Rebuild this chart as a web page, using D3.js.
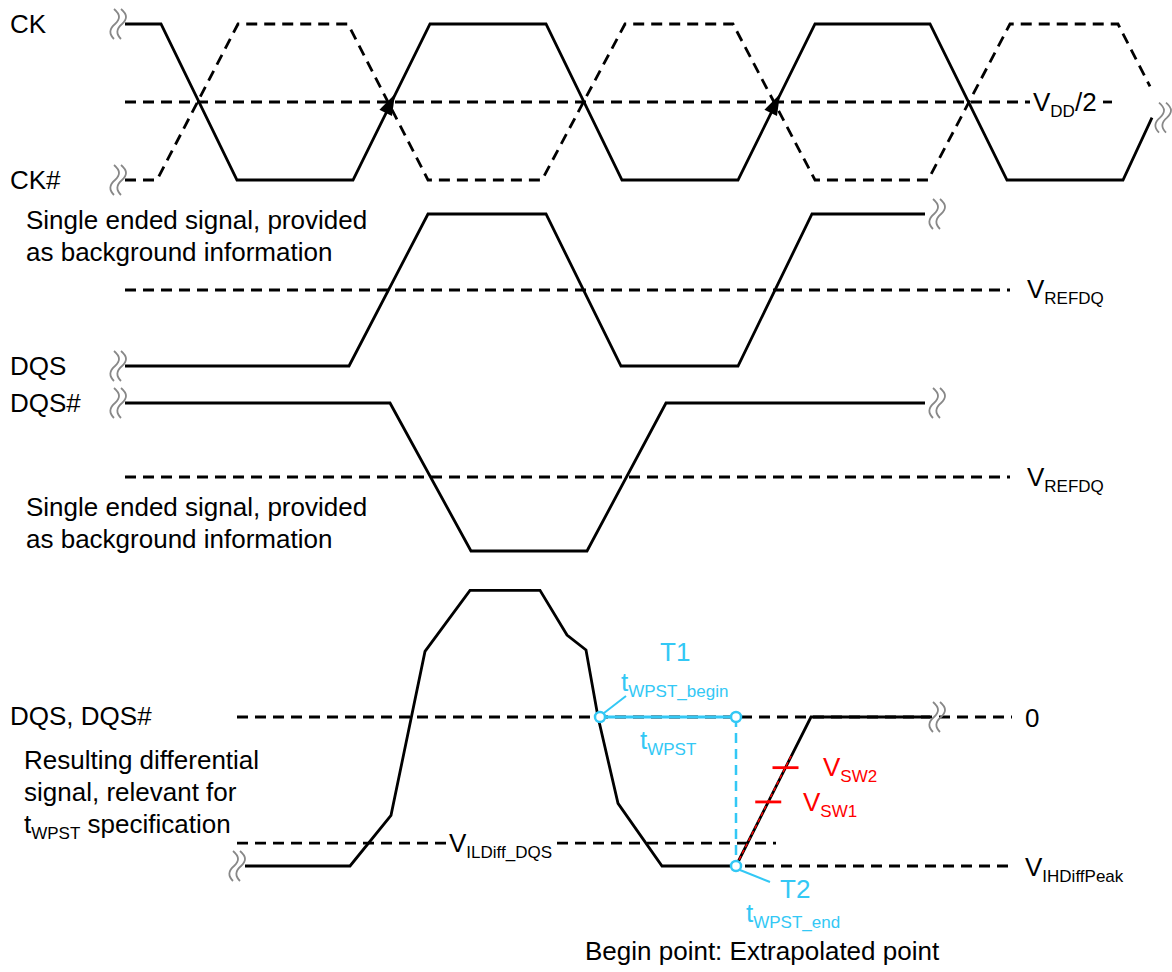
<!DOCTYPE html>
<html>
<head>
<meta charset="utf-8">
<script src="https://d3js.org/d3.v7.min.js"></script>
<style>
  body { margin: 0; background: white; }
  svg text { font-family: "Liberation Sans", Arial, Helvetica, sans-serif; font-size: 26px; }
</style>
</head>
<body>
<svg width="1172" height="972"></svg>
<script>
// waveform breakpoints: time (x units) and logic level
var ckTime   = [125, 161, 237, 353, 430, 546, 622, 738, 815, 930, 1007, 1123, 1152]
var ckLevel  = [1, 1, 0, 0, 1, 1, 0, 0, 1, 1, 0, 0, 0.4]
var ckbTime  = [125, 157, 238, 348, 428, 542, 625, 733, 815, 928, 1010, 1118, 1150]
var ckbLevel = [0, 0, 1, 1, 0, 0, 1, 1, 0, 0, 1, 1, 0.6]
var dqsTime   = [125, 349, 428, 546, 621, 738, 812, 925]
var dqsLevel  = [0, 0, 1, 1, 0, 0, 1, 1]
var dqsbTime  = [125, 390, 471, 587, 666, 925]
var dqsbLevel = [1, 1, 0, 0, 1, 1]
// resulting differential signal (0 = crossing, -1 = VIHDiffPeak)
var diffTime  = [245, 350, 391, 425, 470, 540, 567, 586, 598, 618, 662, 736, 811, 930]
var diffLevel = [-1, -1, -0.66, 0.44, 0.85, 0.85, 0.55, 0.45, 0, -0.58, -1, -1, 0, 0]
var arrowTimes = [391, 776]      // CK rising edges marked with arrows
var vilDiff = -0.846, vsw1 = -0.57, vsw2 = -0.34
var tBegin = 600, tEnd = 736

const svg = d3.select("svg")
const x = d3.scaleLinear().domain([0, 1172]).range([0, 1172])
const yCk   = d3.scaleLinear().domain([0, 1]).range([180, 24])
const yDqs  = d3.scaleLinear().domain([0, 1]).range([366, 214])
const yDqsb = d3.scaleLinear().domain([0, 1]).range([551, 403])
const yDiff = d3.scaleLinear().domain([-1, 0]).range([866, 717])
const cyan = "#33c8f5", red = "#ff0000", dash = "11,7", lw = 2.8

function wave(t, v, y, dashed, color) {
  var pts = t.map(function(d, i){ return [x(d), y(v[i])] })
  svg.append("path").attr("d", d3.line()(pts))
    .attr("fill", "none").attr("stroke", color || "black").attr("stroke-width", lw)
    .attr("stroke-dasharray", dashed ? dash : null)
}
function hline(x1, x2, yy, color, dsh) {
  svg.append("line").attr("x1", x(x1)).attr("x2", x(x2)).attr("y1", yy).attr("y2", yy)
    .attr("stroke", color || "black").attr("stroke-width", lw).attr("stroke-dasharray", dsh || dash)
}
function brk(cx, cy) {
  [0, 7].forEach(function(o){
    svg.append("path")
      .attr("d", "M" + (cx + o - 3) + "," + (cy - 15) + " c7,6 6,10 1,15 c-6,5 -6,10 -1,15")
      .attr("fill", "none").attr("stroke", "#888").attr("stroke-width", 1.8)
  })
}
function label(tx, ty, main, sub, after, color) {
  var t = svg.append("text").attr("x", tx).attr("y", ty).attr("fill", color || "black")
  t.append("tspan").text(main)
  if (sub) t.append("tspan").attr("font-size", 17).attr("dy", 6).text(sub)
  if (after) t.append("tspan").attr("dy", -6).text(after)
  return t
}

// reference lines
hline(125, 1030, yCk(0.5)); hline(1103, 1112, yCk(0.5), "black", "9,0")
hline(125, 1010, yDqs(0.5))
hline(125, 1010, yDqsb(0.5))
hline(237, 1012, yDiff(0))
hline(237, 447, yDiff(vilDiff)); hline(557, 776, yDiff(vilDiff))
hline(745, 1012, yDiff(-1))

// clock pair
wave(ckbTime, ckbLevel, yCk, true)
wave(ckTime, ckLevel, yCk, false)
arrowTimes.forEach(function(t){
  var a = Math.atan2(yCk(1) - yCk(0), x(430) - x(353)) * 180 / Math.PI
  svg.append("path").attr("d", "M0,0 L-21,-7 L-21,7 Z").attr("fill", "black")
    .attr("transform", "translate(" + (x(t) + 4) + "," + (yCk(0.5) - 8) + ") rotate(" + a + ")")
})
wave(dqsTime, dqsLevel, yDqs, false)
wave(dqsbTime, dqsbLevel, yDqsb, false)
wave(diffTime, diffLevel, yDiff, false)
// extrapolated slope through VSW1/VSW2
svg.append("line").attr("x1", x(tEnd)).attr("y1", yDiff(-1)).attr("x2", x(792)).attr("y2", yDiff(-0.25))
  .attr("stroke", red).attr("stroke-width", 1.4).attr("stroke-dasharray", "4,3")
;[vsw1, vsw2].forEach(function(v){
  var tx = tEnd + (v + 1) * (811 - tEnd)
  svg.append("line").attr("x1", x(tx) - 13).attr("x2", x(tx) + 13)
    .attr("y1", yDiff(v)).attr("y2", yDiff(v)).attr("stroke", red).attr("stroke-width", 2.8)
})

// break marks
brk(117, yCk(1)); brk(117, yCk(0)); brk(1162, yCk(0.4))
brk(117, yDqs(0)); brk(936, yDqs(1))
brk(117, yDqsb(1)); brk(936, yDqsb(1))
brk(236, yDiff(-1)); brk(936, yDiff(0))

// tWPST measurement
svg.append("line").attr("x1", x(tBegin)).attr("x2", x(tEnd)).attr("y1", yDiff(0)).attr("y2", yDiff(0))
  .attr("stroke", cyan).attr("stroke-width", 3)
svg.append("line").attr("x1", x(tEnd)).attr("x2", x(tEnd)).attr("y1", yDiff(0)).attr("y2", yDiff(-1))
  .attr("stroke", cyan).attr("stroke-width", 2.5).attr("stroke-dasharray", "10,6")
svg.append("line").attr("x1", x(tBegin) + 4).attr("y1", yDiff(0) - 4).attr("x2", x(626)).attr("y2", yDiff(0) - 21)
  .attr("stroke", cyan).attr("stroke-width", 2)
svg.append("line").attr("x1", x(tEnd) + 4).attr("y1", yDiff(-1) + 4).attr("x2", x(770)).attr("y2", yDiff(-1) + 16)
  .attr("stroke", cyan).attr("stroke-width", 2)
;[[tBegin, 0], [tEnd, 0], [tEnd, -1]].forEach(function(p){
  svg.append("circle").attr("cx", x(p[0])).attr("cy", yDiff(p[1])).attr("r", 5)
    .attr("fill", "white").attr("stroke", cyan).attr("stroke-width", 2.5)
})

// texts
label(10, 33, "CK"); label(10, 189, "CK#")
label(10, 375, "DQS"); label(10, 412, "DQS#"); label(10, 725, "DQS, DQS#")
label(26, 229, "Single ended signal, provided"); label(26, 261, "as background information")
label(26, 516, "Single ended signal, provided"); label(26, 548, "as background information")
label(24, 769, "Resulting differential"); label(24, 801, "signal, relevant for")
label(24, 833, "t", "WPST", " specification")
label(1033, 111, "V", "DD", "/2")
label(1027, 298, "V", "REFDQ"); label(1027, 486, "V", "REFDQ")
label(1025, 727, "0")
label(1025, 876, "V", "IHDiffPeak")
label(449, 852, "V", "ILDiff_DQS")
label(823, 776, "V", "SW2", null, red); label(803, 811, "V", "SW1", null, red)
label(660, 661, "T1", null, null, cyan)
label(621, 691, "t", "WPST_begin", null, cyan)
label(640, 749, "t", "WPST", null, cyan)
label(780, 898, "T2", null, null, cyan)
label(746, 922, "t", "WPST_end", null, cyan)
label(585, 960, "Begin point: Extrapolated point")
</script>
</body>
</html>
